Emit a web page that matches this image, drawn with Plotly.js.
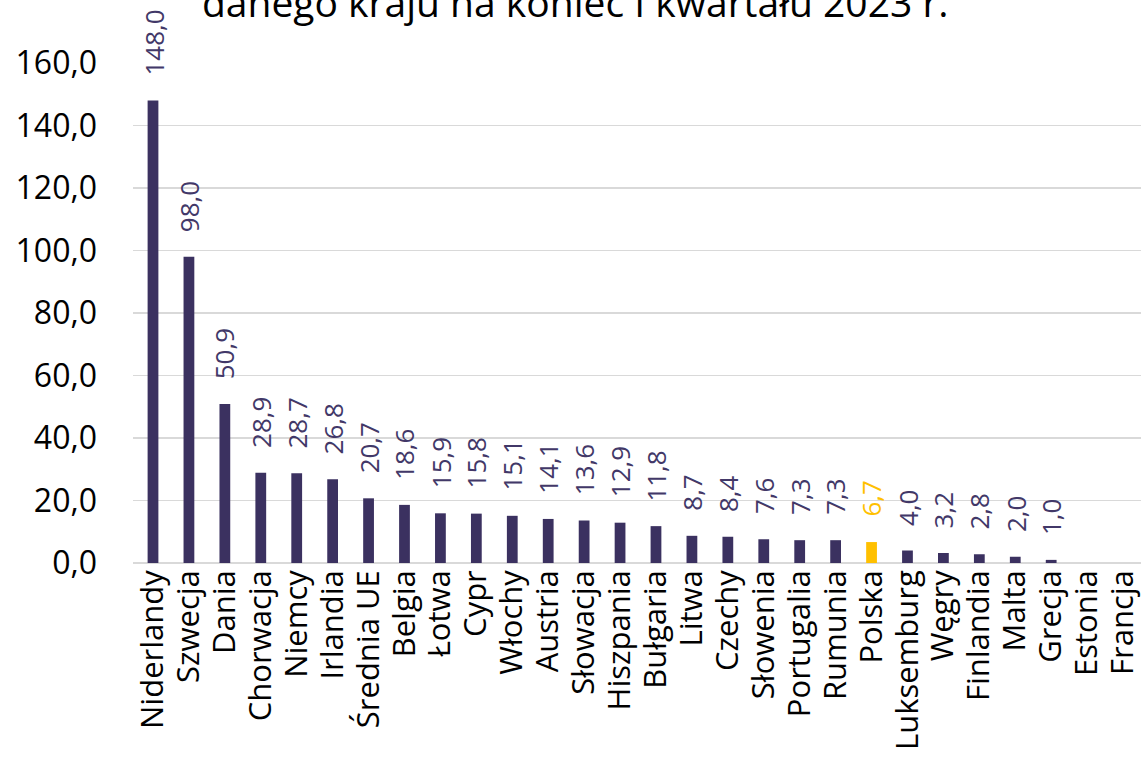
<!DOCTYPE html>
<html>
<head>
<meta charset="utf-8">
<script src="https://cdn.plot.ly/plotly-3.0.1.min.js"></script>
<style>html,body{margin:0;padding:0;background:#fff;}#chart{width:1142px;height:771px;}</style>
</head>
<body>
<div id="chart"></div>
<script>
const categories = ["Niderlandy","Szwecja","Dania","Chorwacja","Niemcy","Irlandia","Średnia UE","Belgia","Łotwa","Cypr","Włochy","Austria","Słowacja","Hiszpania","Bułgaria","Litwa","Czechy","Słowenia","Portugalia","Rumunia","Polska","Luksemburg","Węgry","Finlandia","Malta","Grecja","Estonia","Francja"];
const values = [148.0,98.0,50.9,28.9,28.7,26.8,20.7,18.6,15.9,15.8,15.1,14.1,13.6,12.9,11.8,8.7,8.4,7.6,7.3,7.3,6.7,4.0,3.2,2.8,2.0,1.0,null,null];
const highlight = "Polska";
const titleText = "danego kraju na koniec I kwartału 2023 r.";
const yTicks = [0,20,40,60,80,100,120,140,160];

const PURPLE = "#3B3160";
const LABEL_PURPLE = "#423868";
const GOLD = "#FFC000";
const colors = categories.map(c => c === highlight ? GOLD : PURPLE);
const labelColors = categories.map(c => c === highlight ? GOLD : LABEL_PURPLE);
const labels = values.map(v => v === null ? "" : v.toFixed(1).replace(".", ","));

const FONT = "'Open Sans', 'Noto Sans', sans-serif";

const trace = {
  type: "bar",
  x: categories,
  y: values,
  width: 0.3,
  marker: {color: colors},
  hoverinfo: "x+y"
};

const valueAnnotations = [];
categories.forEach((c, i) => {
  if (values[i] === null) return;
  valueAnnotations.push({
    x: c, y: values[i], xref: "x", yref: "y",
    text: labels[i],
    textangle: -90,
    xanchor: "center", yanchor: "bottom",
    yshift: 23,
    showarrow: false,
    font: {family: FONT, size: 26, color: labelColors[i]}
  });
});

const layout = {
  width: 1142, height: 771,
  margin: {l: 133, r: 1, t: 63, b: 208},
  paper_bgcolor: "#fff", plot_bgcolor: "#fff",
  showlegend: false,
  separators: ",.",
  font: {family: FONT, color: "#000"},
  xaxis: {
    type: "category",
    tickmode: "array",
    tickvals: categories,
    ticktext: categories,
    tickangle: -90,
    tickfont: {family: FONT, size: 31, color: "#000"},
    showgrid: false,
    showline: false,
    ticks: "",
    automargin: false
  },
  yaxis: {
    range: [0, 160],
    tickvals: yTicks,
    tickformat: ".1f",
    tickfont: {family: FONT, size: 32, color: "#000"},
    showgrid: true,
    gridcolor: "#D9D9D9",
    gridwidth: 1.5,
    zeroline: true,
    zerolinecolor: "#D9D9D9",
    zerolinewidth: 1.5,
    showline: false,
    ticks: "",
    ticklabelstandoff: 35,
    automargin: false
  },
  annotations: [{
    text: titleText,
    xref: "paper", yref: "paper",
    x: 0.4385, y: 1.122,
    xanchor: "center", yanchor: "middle",
    showarrow: false,
    font: {family: FONT, size: 39, color: "#000"}
  }].concat(valueAnnotations)
};

Plotly.newPlot("chart", [trace], layout, {displayModeBar: false, staticPlot: true});
</script>
</body>
</html>
